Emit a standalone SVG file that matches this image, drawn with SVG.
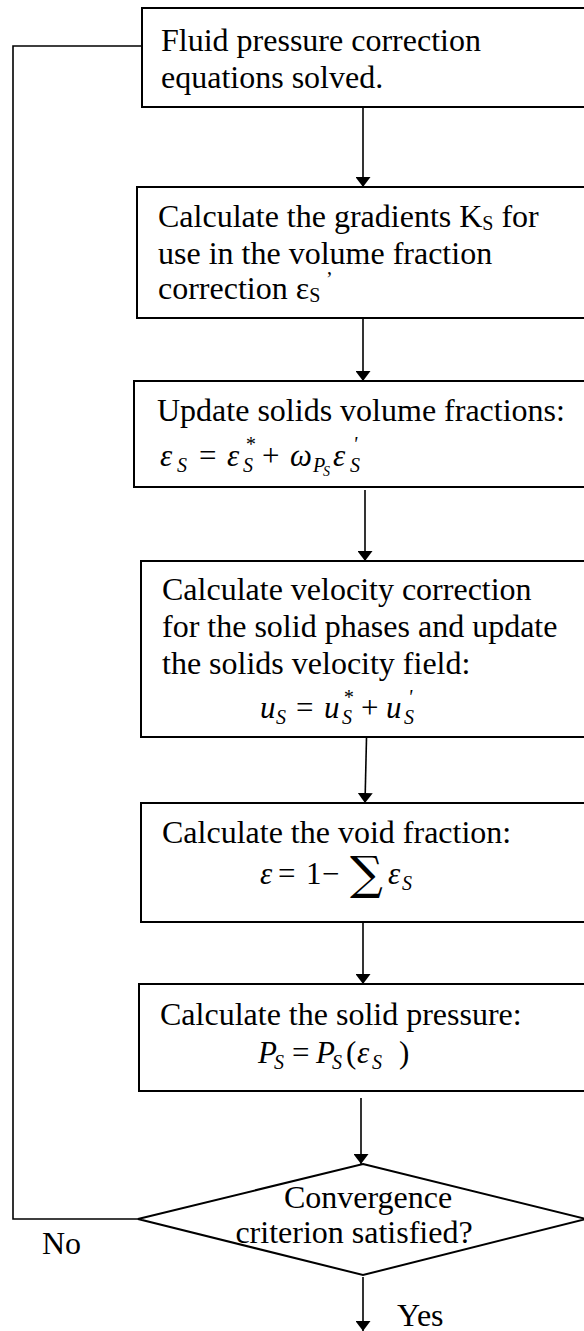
<svg xmlns="http://www.w3.org/2000/svg" width="584" height="1331" viewBox="0 0 584 1331">
<defs>
<marker id="ah" viewBox="0 0 10 15" refX="10" refY="7.5" markerWidth="10" markerHeight="15" markerUnits="userSpaceOnUse" orient="auto">
<path d="M0,0 L10,7.5 L0,15 Z" fill="#000"/>
</marker>
<style>
.box{fill:#fff;stroke:#000;stroke-width:2}
.t{font-family:"Liberation Serif","Times New Roman",serif;font-size:32px;fill:#000}
.m{font-family:"Liberation Serif","Times New Roman",serif;font-size:31px;font-style:italic;fill:#000}
.mu{font-family:"Liberation Serif","Times New Roman",serif;font-size:31px;font-style:normal;fill:#000}
.sb{font-size:20px}
.ss{font-size:14px}
.c{fill:none;stroke:#000;stroke-width:1.6}
.a{fill:none;stroke:#000;stroke-width:1.6;marker-end:url(#ah)}
</style>
</defs>
<g id="connectors">
<path class="c" d="M142,46 H13 V1219 H138"/>
<line class="a" x1="363" y1="108" x2="363" y2="187"/>
<line class="a" x1="363" y1="318" x2="363" y2="381"/>
<line class="a" x1="365" y1="490" x2="365" y2="561"/>
<line class="a" x1="366.5" y1="738" x2="365" y2="803"/>
<line class="a" x1="363" y1="920" x2="363" y2="984"/>
<line class="a" x1="361" y1="1098" x2="361" y2="1164"/>
<line class="a" x1="363" y1="1277" x2="363" y2="1331"/>
</g>
<g id="n1">
<rect class="box" x="142" y="8" width="446" height="99"/>
<text class="t" x="161" y="51">Fluid pressure correction</text>
<text class="t" x="161" y="88">equations solved.</text>
</g>
<g id="n2">
<rect class="box" x="137" y="187" width="451" height="131"/>
<text class="t" x="158" y="227">Calculate the gradients K<tspan class="sb" dy="3">S</tspan><tspan dy="-3"> for</tspan></text>
<text class="t" x="158" y="264">use in the volume fraction</text>
<text class="t" x="158" y="299">correction ε<tspan class="sb" dy="3">S</tspan><tspan class="sb" x="326" y="286">’</tspan></text>
</g>
<g id="n3">
<rect class="box" x="134" y="381" width="454" height="106"/>
<text class="t" x="157" y="421">Update solids volume fractions:</text>
<text class="m" x="160" y="466">ε<tspan class="sb" x="177" y="472">S</tspan><tspan class="mu" x="199" y="466">=</tspan><tspan x="227" y="466">ε</tspan><tspan class="sb" x="245" y="451">*</tspan><tspan class="sb" x="243" y="472">S</tspan><tspan class="mu" x="262" y="466">+</tspan><tspan x="290" y="466">ω</tspan><tspan class="sb" x="313" y="472">P</tspan><tspan class="ss" x="323" y="476">S</tspan><tspan x="333" y="466">ε</tspan><tspan class="sb" x="353" y="451">'</tspan><tspan class="sb" x="350" y="472">S</tspan></text>
</g>
<g id="n4">
<rect class="box" x="141" y="561" width="447" height="176"/>
<text class="t" x="162" y="600">Calculate velocity correction</text>
<text class="t" x="162" y="637">for the solid phases and update</text>
<text class="t" x="162" y="674">the solids velocity field:</text>
<text class="m" x="260" y="718">u<tspan class="sb" x="276" y="724">S</tspan><tspan class="mu" x="296" y="718">=</tspan><tspan x="324" y="718">u</tspan><tspan class="sb" x="343" y="704">*</tspan><tspan class="sb" x="342" y="724">S</tspan><tspan class="mu" x="361" y="718">+</tspan><tspan x="386" y="718">u</tspan><tspan class="sb" x="408" y="704">'</tspan><tspan class="sb" x="404" y="724">S</tspan></text>
</g>
<g id="n5">
<rect class="box" x="141" y="803" width="447" height="119"/>
<text class="t" x="162" y="843">Calculate the void fraction:</text>
<text class="m" x="260" y="884">ε<tspan class="mu" x="278" y="884">=</tspan><tspan class="mu" x="306" y="884">1</tspan><tspan class="mu" x="322" y="884">−</tspan><tspan x="350" y="889" font-family="DejaVu Serif" font-style="normal" font-size="46">∑</tspan><tspan x="388" y="884">ε</tspan><tspan class="sb" x="402" y="890">S</tspan></text>
</g>
<g id="n6">
<rect class="box" x="139" y="984" width="449" height="107"/>
<text class="t" x="160" y="1025">Calculate the solid pressure:</text>
<text class="m" x="258" y="1063">P<tspan class="sb" x="274" y="1069">S</tspan><tspan class="mu" x="292" y="1063">=</tspan><tspan x="316" y="1063">P</tspan><tspan class="sb" x="332" y="1069">S</tspan><tspan class="mu" x="346" y="1063">(</tspan><tspan x="357" y="1063">ε</tspan><tspan class="sb" x="372" y="1069">S</tspan><tspan class="mu" x="399" y="1063">)</tspan></text>
</g>
<g id="n7">
<polygon class="box" points="363,1164 586,1219 363,1275 138,1219"/>
<text class="t" x="368" y="1208" text-anchor="middle">Convergence</text>
<text class="t" x="354" y="1243" text-anchor="middle">criterion satisfied?</text>
</g>
<text class="t" x="42" y="1254">No</text>
<text class="t" x="397" y="1326">Yes</text>
</svg>
